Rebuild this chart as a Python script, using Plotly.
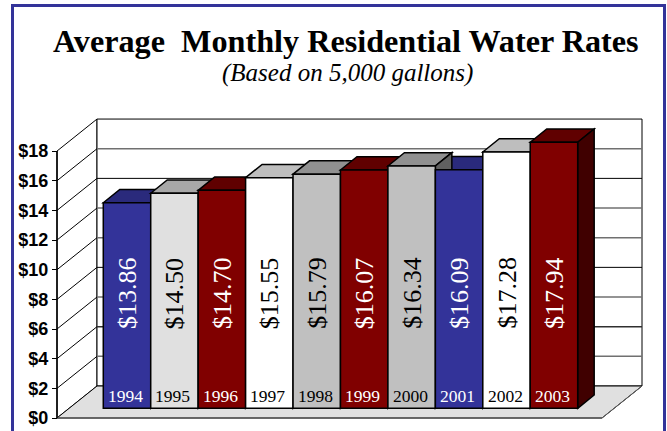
import plotly.graph_objects as go

years = ["1994","1995","1996","1997","1998","1999","2000","2001","2002","2003"]
rates = [13.86,14.50,14.70,15.55,15.79,16.07,16.34,16.09,17.28,17.94]
front_colors = ["#333399","#E0E0E0","#800000","#FFFFFF","#C0C0C0","#800000","#C0C0C0","#333399","#FFFFFF","#800000"]
top_colors = ["#2A2A7C","#A8A8A8","#600000","#BEBEBE","#909090","#600000","#909090","#2A2A7C","#BEBEBE","#600000"]
side_colors = ["#1E1E5A","#707070","#400000","#808080","#606060","#400000","#606060","#1E1E5A","#808080","#400000"]
text_colors = ["#FFFFFF","#000000","#FFFFFF","#000000","#000000","#FFFFFF","#000000","#FFFFFF","#000000","#FFFFFF"]
tick_values = [0,2,4,6,8,10,12,14,16,18]
tick_labels = ["$0","$2","$4","$6","$8","$10","$12","$14","$16","$18"]
grid_colors = ["#000000","#707070","#303030","#707070","#000000","#707070","#707070","#000000","#707070","#000000"]

W, H = 667, 431
PX_X = 47.44          # pixels per category
PX_Y = 14.83          # pixels per dollar
X0_PX = 127.0         # pixel of first category centre
Y0_PX = 418.0         # pixel of $0 on the front plane

def dx(px): return px / PX_X
def dy(px): return px / PX_Y
def xv(px): return (px - X0_PX) / PX_X
def yv(px): return (Y0_PX - px) / PX_Y

xrange_ = [xv(0), xv(W)]
yrange_ = [yv(H), yv(0)]

def path(pts):
    return "M " + " L ".join(f"{x:.4f},{y:.4f}" for x, y in pts) + " Z"

def open_path(pts):
    return "M " + " L ".join(f"{x:.4f},{y:.4f}" for x, y in pts)

shapes = []
def poly(pts, fill, line="#000000", width=1, closed=True):
    shapes.append(dict(type="path", xref="x", yref="y", layer="below",
                       path=path(pts) if closed else open_path(pts),
                       fillcolor=fill if closed else None,
                       line=dict(color=line, width=width)))

# frame of the chart box
shapes.append(dict(type="rect", xref="paper", yref="paper", layer="below",
                   x0=12.5/W, x1=664.5/W, y0=-0.05, y1=1-5.5/H,
                   line=dict(color="#333399", width=3), fillcolor="#FFFFFF"))

# box geometry
x_l = xv(57); x_r = xv(602)
wall_dx, wall_dy = dx(40), dy(32)
top = tick_values[-1]

# left wall, back wall, floor
poly([(x_l,0),(x_l+wall_dx,wall_dy),(x_l+wall_dx,top+wall_dy),(x_l,top)], "#FFFFFF")
poly([(x_l+wall_dx,wall_dy),(x_r+wall_dx,wall_dy),(x_r+wall_dx,top+wall_dy),(x_l+wall_dx,top+wall_dy)], "#FFFFFF")
for t, c in zip(tick_values[1:-1], grid_colors[1:-1]):
    poly([(x_l,t),(x_l+wall_dx,t+wall_dy)], None, closed=False)
    poly([(x_l+wall_dx,t+wall_dy),(x_r+wall_dx,t+wall_dy)], None, line=c,
         width=1 if c == "#000000" else 1.5, closed=False)
poly([(x_l,0),(x_l+wall_dx,wall_dy),(x_r+wall_dx,wall_dy),(x_r,0)], "#E0E0E0")
poly([(x_l,0),(x_r,0)], None, line="#606060", width=1.5, closed=False)
poly([(x_r,0),(x_r+wall_dx,wall_dy)], None, line="#606060", width=1, closed=False)
poly([(x_l,0),(x_l,top)], None, closed=False, width=1.5)

# bar depth faces, shorter bars first so a taller neighbour overlaps them
bar_base = dy(9.7)
bar_dx, bar_dy = dx(16.5), dy(13.3)
half = 0.5
for i in sorted(range(len(rates)), key=lambda k: rates[k]):
    t = bar_base + rates[i]
    poly([(i-half,t),(i-half+bar_dx,t+bar_dy),(i+half+bar_dx,t+bar_dy),(i+half,t)], top_colors[i], width=1.5)
    poly([(i+half,bar_base),(i+half+bar_dx,bar_base+bar_dy),(i+half+bar_dx,t+bar_dy),(i+half,t)], side_colors[i], width=1.5)

fig = go.Figure(go.Bar(
    x=list(range(len(years))), y=rates, base=bar_base, width=1,
    marker=dict(color=front_colors, line=dict(color="#000000", width=1.5)),
    hoverinfo="skip", showlegend=False))

serif = "Liberation Serif"
annotations = []
for i, (yr, v) in enumerate(zip(years, rates)):
    annotations.append(dict(x=i, y=yv(293), xref="x", yref="y", text=f"${v:.2f}", showarrow=False,
                            textangle=-90, xanchor="center", yanchor="middle",
                            font=dict(family=serif, size=26, color=text_colors[i])))
    annotations.append(dict(x=i-dx(1.5), y=yv(396), xref="x", yref="y", text=yr, showarrow=False,
                            xanchor="center", yanchor="middle",
                            font=dict(family=serif, size=17.5, color=text_colors[i])))
annotations.append(dict(x=346/W, y=1-41/H, xref="paper", yref="paper", showarrow=False,
                        xanchor="center", yanchor="middle",
                        text="<b>Average\u00a0 Monthly Residential Water Rates</b>",
                        font=dict(family=serif, size=32.2, color="#000000")))
annotations.append(dict(x=347/W, y=1-73/H, xref="paper", yref="paper", showarrow=False,
                        xanchor="center", yanchor="middle",
                        text="<i>(Based on 5,000 gallons)</i>",
                        font=dict(family=serif, size=25, color="#000000")))

fig.update_layout(
    width=W, height=H, margin=dict(l=0, r=0, t=0, b=0),
    paper_bgcolor="#FFFFFF", plot_bgcolor="#FFFFFF",
    showlegend=False, shapes=shapes, annotations=annotations,
    xaxis=dict(range=xrange_, visible=False, fixedrange=True, domain=[0,1]),
    yaxis=dict(range=yrange_, fixedrange=True, domain=[0,1], anchor="free", position=57/W,
               tickmode="array", tickvals=tick_values, ticktext=tick_labels,
               ticks="outside", ticklen=5, tickwidth=1, tickcolor="#000000",
               showgrid=False, zeroline=False, showline=False,
               tickfont=dict(family="Liberation Sans", size=18, color="#000000", weight="bold")),
)
fig.write_html("out.html", config=dict(displayModeBar=False),
               post_script="document.body.style.margin='0';document.body.style.overflow='hidden';")
